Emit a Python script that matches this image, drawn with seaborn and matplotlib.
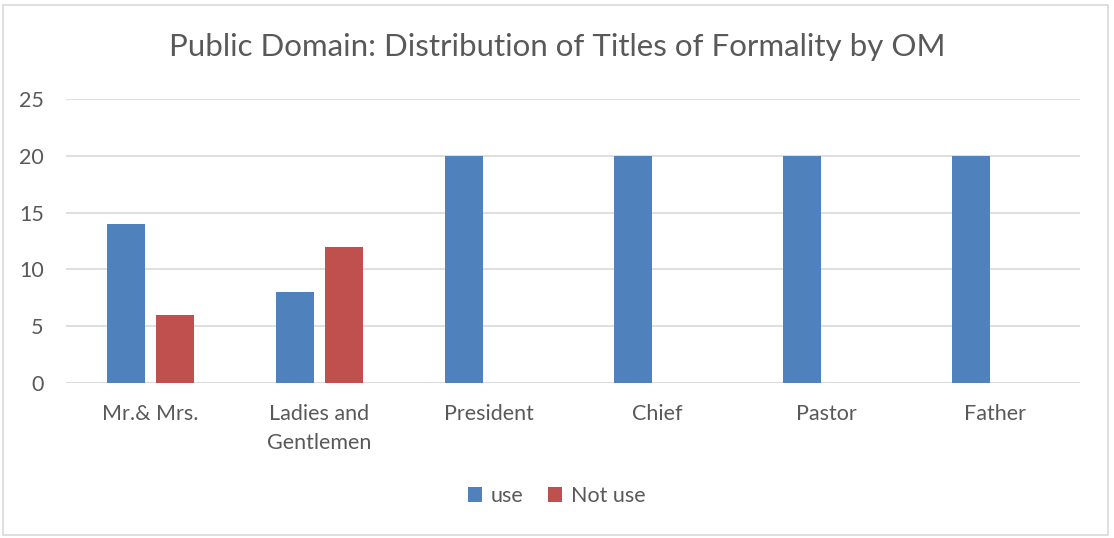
import matplotlib
matplotlib.use("Agg")
import matplotlib.pyplot as plt
from matplotlib.patches import Rectangle
import seaborn as sns
import pandas as pd

categories = ["Mr.& Mrs.", "Ladies and\nGentlemen", "President", "Chief", "Pastor", "Father"]
use_counts = [14, 8, 20, 20, 20, 20]
not_use_counts = [6, 12, 0, 0, 0, 0]
series_names = ["use", "Not use"]
title = "Public Domain: Distribution of Titles of Formality by OM"

df = pd.DataFrame({
    "Title": categories * 2,
    "Count": use_counts + not_use_counts,
    "Series": [series_names[0]] * len(categories) + [series_names[1]] * len(categories),
})

sns.set_theme(style="white")
plt.rcParams["font.family"] = ["Lato", "DejaVu Sans"]
text_color = "#595959"
grid_color = "#D9D9D9"
label_size = 15.5

fig = plt.figure(figsize=(11.14, 5.38), dpi=100)
fig.patch.set_facecolor("white")
fig.patches.append(Rectangle((3 / 1114, 3 / 538), 1105 / 1114, 530 / 538,
                             transform=fig.transFigure, fill=False,
                             edgecolor=grid_color, linewidth=1.2))

ax = fig.add_axes([66 / 1114, 1 - 383 / 538, (1080 - 66) / 1114, (383 - 99) / 538])
sns.barplot(data=df, x="Title", y="Count", hue="Series",
            palette=["#4F81BD", "#C0504D"], width=0.58, gap=0.22,
            linewidth=0, saturation=1, ax=ax, legend=True)

ax.set_ylim(0, 25)
ax.set_yticks([0, 5, 10, 15, 20, 25])
ax.set_xlim(-0.5, len(categories) - 0.5)
ax.yaxis.grid(True, color=grid_color, linewidth=1.2)
ax.set_axisbelow(True)
for s in ax.spines.values():
    s.set_visible(False)
ax.axhline(0, color=grid_color, linewidth=1.2, zorder=0.5)
ax.set_xlabel("")
ax.set_ylabel("")
ax.tick_params(axis="y", length=0, pad=16, labelsize=label_size, labelcolor=text_color)
ax.tick_params(axis="x", length=0, pad=15, labelsize=label_size, labelcolor=text_color)
for lbl in ax.get_xticklabels():
    lbl.set_linespacing(1.6)

fig.text(0.5, 1 - 47 / 538, title, ha="center", va="center",
         fontsize=22.5, color=text_color)

handles, labels = ax.get_legend_handles_labels()
ax.legend_.remove()
fig.legend(handles, labels, loc="center", bbox_to_anchor=(557 / 1114, 1 - 496 / 538),
           ncol=2, frameon=False, fontsize=label_size, labelcolor=text_color,
           handlelength=0.65, handleheight=0.65, handletextpad=0.4, columnspacing=1.15)

fig.savefig("out.png", dpi=100, facecolor="white")
